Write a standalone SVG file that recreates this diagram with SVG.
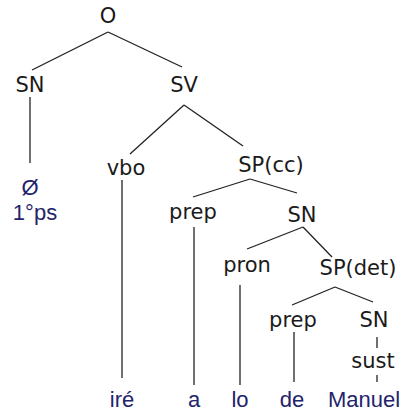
<svg xmlns="http://www.w3.org/2000/svg" width="407" height="415" viewBox="0 0 407 415">
<style>
.n{font-family:"DejaVu Sans",sans-serif;font-size:21px;fill:#1a1a1a;text-anchor:middle}
.l{font-family:"Liberation Sans",Arial,sans-serif;font-size:22px;fill:#23236b;text-anchor:middle}
.c line{stroke:#222;stroke-width:1.3;fill:none}
</style>
<rect width="407" height="415" fill="#fff"/>
<g class="c" id="connectors">
<line x1="108" y1="32" x2="32" y2="70"/>
<line x1="108" y1="32" x2="182" y2="67"/>
<line x1="30" y1="97" x2="30" y2="163"/>
<line x1="184" y1="105" x2="130" y2="154"/>
<line x1="184" y1="105" x2="243" y2="146"/>
<line x1="122" y1="180" x2="122" y2="378"/>
<line x1="250" y1="179" x2="193" y2="197"/>
<line x1="250" y1="179" x2="297" y2="193"/>
<line x1="194" y1="227" x2="194" y2="385"/>
<line x1="303" y1="227" x2="247" y2="249"/>
<line x1="303" y1="227" x2="332" y2="257"/>
<line x1="240" y1="285" x2="240" y2="385"/>
<line x1="335" y1="287" x2="292" y2="305"/>
<line x1="335" y1="287" x2="373" y2="302"/>
<line x1="294" y1="332" x2="294" y2="382"/>
<line x1="377" y1="337" x2="377" y2="348"/>
<line x1="377" y1="375" x2="377" y2="382"/>
</g>
<g id="O"><text class="n" x="108" y="23">O</text></g>
<g id="SN1"><text class="n" x="30" y="92">SN</text></g>
<g id="SV"><text class="n" x="184" y="92">SV</text></g>
<g id="leaf-0"><text class="l" x="30" y="195">Ø</text><text class="l" x="35" y="220">1°ps</text></g>
<g id="vbo"><text class="n" x="126" y="175">vbo</text></g>
<g id="SPcc"><text class="n" x="271" y="172">SP(cc)</text></g>
<g id="prep1"><text class="n" x="193" y="219">prep</text></g>
<g id="SN2"><text class="n" x="302" y="222">SN</text></g>
<g id="pron"><text class="n" x="247" y="272">pron</text></g>
<g id="SPdet"><text class="n" x="358" y="275">SP(det)</text></g>
<g id="prep2"><text class="n" x="293" y="327">prep</text></g>
<g id="SN3"><text class="n" x="374" y="327">SN</text></g>
<g id="sust"><text class="n" x="373" y="368">sust</text></g>
<g id="ire"><text class="l" x="122" y="407">iré</text></g>
<g id="a"><text class="l" x="194" y="407">a</text></g>
<g id="lo"><text class="l" x="240" y="407">lo</text></g>
<g id="de"><text class="l" x="292" y="407">de</text></g>
<g id="Manuel"><text class="l" x="364" y="407">Manuel</text></g>
</svg>
